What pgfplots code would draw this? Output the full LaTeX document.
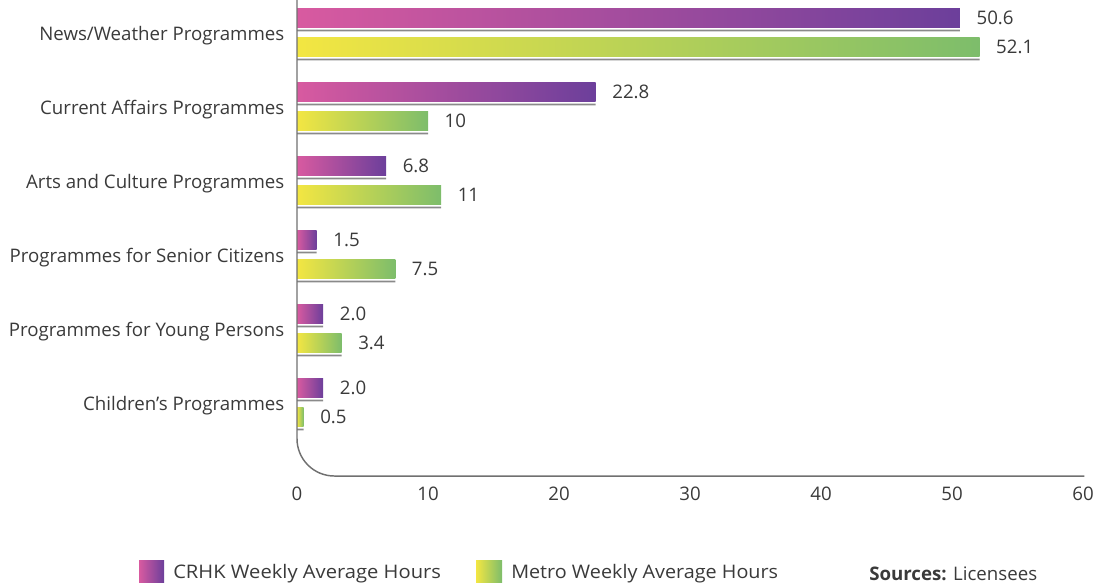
\documentclass[border=0pt]{standalone}
\usepackage{fontspec}
\setmainfont{Open Sans}
\usepackage{pgfplots}
\pgfplotsset{compat=1.18}
\definecolor{pinkL}{HTML}{D85AA0}
\definecolor{purpR}{HTML}{6C3F9B}
\definecolor{yelL}{HTML}{F3E642}
\definecolor{grnR}{HTML}{7DBD6B}
\definecolor{txt}{HTML}{3A3A3A}
\definecolor{axisgray}{HTML}{707070}
\definecolor{linegray}{HTML}{8A8A8A}
\pgfplotsset{
  crhkbar/.style={xbar, bar width=14.25pt, bar shift=10.875pt, draw=none, left color=pinkL, right color=purpR,
    nodes near coords, nodes near coords style={anchor=west, xshift=9pt, yshift=10.875pt, text=txt, font=\fontsize{14}{16}\selectfont}},
  metrobar/.style={xbar, bar width=14.25pt, bar shift=-10.875pt, draw=none, left color=yelL, right color=grnR,
    nodes near coords, nodes near coords style={anchor=west, xshift=9pt, yshift=-10.875pt, text=txt, font=\fontsize{14}{16}\selectfont}},
}
\begin{document}
\begin{tikzpicture}[font=\fontsize{14}{16}\selectfont, text=txt]
\useasboundingbox (0,0) rectangle (827.25pt,-440.25pt);
\begin{axis}[
  at={(222.75pt,-357pt)}, anchor=south west,
  scale only axis, width=589.5pt, height=357pt,
  xmin=0, xmax=60, ymin=-0.4324, ymax=6, y dir=reverse,
  axis line style={draw=none},
  xtick={0,10,...,60}, ytick={0,...,5},
  yticklabels={News/Weather Programmes, Current Affairs Programmes, Arts and Culture Programmes, Programmes for Senior Citizens, Programmes for Young Persons, Children’s Programmes},
  major tick length=0pt,
  tick label style={font=\fontsize{14}{16}\selectfont, text=txt},
  xticklabel style={yshift=-5pt},
  yticklabel style={xshift=-6pt, yshift=-2.5pt},
  /pgf/number format/assume math mode=true,
  clip=false,
  point meta=explicit symbolic,
]
% underlines
\addplot[xbar, bar width=1.2pt, bar shift=1.1pt, fill=linegray, draw=none, forget plot]
  coordinates {(50.6,0) (22.8,1) (6.8,2) (1.5,3) (2.0,4) (2.0,5)};
\addplot[xbar, bar width=1.2pt, bar shift=-20.6pt, fill=linegray, draw=none, forget plot]
  coordinates {(52.1,0) (10,1) (11,2) (7.5,3) (3.4,4) (0.5,5)};
% CRHK (one plot per bar so that each bar carries its own gradient)
\addplot[crhkbar] coordinates {(50.6,0) [50.6]};
\addplot[crhkbar] coordinates {(22.8,1) [22.8]};
\addplot[crhkbar] coordinates {(6.8,2) [6.8]};
\addplot[crhkbar] coordinates {(1.5,3) [1.5]};
\addplot[crhkbar] coordinates {(2.0,4) [2.0]};
\addplot[crhkbar] coordinates {(2.0,5) [2.0]};
% Metro
\addplot[metrobar] coordinates {(52.1,0) [52.1]};
\addplot[metrobar] coordinates {(10,1) [10]};
\addplot[metrobar] coordinates {(11,2) [11]};
\addplot[metrobar] coordinates {(7.5,3) [7.5]};
\addplot[metrobar] coordinates {(3.4,4) [3.4]};
\addplot[metrobar] coordinates {(0.5,5) [0.5]};
\draw[axisgray, line width=1.1pt, rounded corners=28pt] (axis cs:0,-0.4324) -- (axis cs:0,6) -- (axis cs:60.1,6);
\end{axis}
% legend
\shade[left color=pinkL, right color=purpR] (104.25pt,-420pt) rectangle (123pt,-436.5pt);
\node[anchor=west, inner sep=0pt] at (129.75pt,-430.5pt) {\scalebox{1.08}[1]{CRHK Weekly Average Hours}};
\shade[left color=yelL, right color=grnR] (357pt,-420pt) rectangle (376.5pt,-436.5pt);
\node[anchor=west, inner sep=0pt] at (383.25pt,-430.5pt) {\scalebox{1.06}[1]{Metro Weekly Average Hours}};
\node[anchor=west, inner sep=0pt] at (651.75pt,-430.5pt) {\textbf{Sources:} Licensees};
\end{tikzpicture}
\end{document}
